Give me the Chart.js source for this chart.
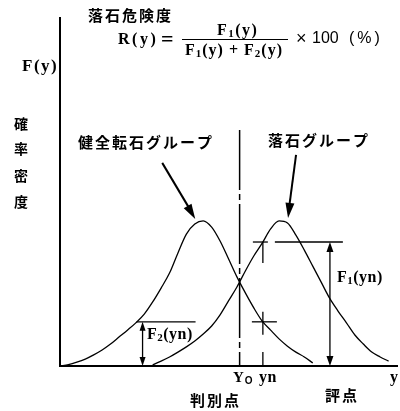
<!DOCTYPE html>
<html>
<head>
<meta charset="utf-8">
<script src="https://cdn.jsdelivr.net/npm/chart.js@4.4.0/dist/chart.umd.min.js"></script>
<style>
  body { margin: 0; background: #fff; }
</style>
</head>
<body>
<canvas id="chart" width="400" height="411"></canvas>
<script>
// score axis (y) sampled every 2.5
var scoreGrid = [0, 2.5, 5, 7.5, 10, 12.5, 15, 17.5, 20, 22.5, 25, 27.5, 30, 32.5, 35, 37.5, 40,
  42.5, 45, 47.5, 50, 52.5, 55, 57.5, 60, 62.5, 65, 67.5, 70, 72.5, 75, 77.5, 80, 82.5, 85,
  87.5, 90, 92.5, 95, 97.5, 100];

// F2(y) - 健全転石グループ
var healthyDensity = [0, 0.4, 1.1, 2.0, 3.2, 4.6, 6.3, 8.3, 10.3, 12.4, 14.9, 18.4, 22.4, 26.7,
  32.5, 37.9, 40.8, 41.7, 39.9, 35.9, 30.8, 25.6, 21.0, 16.7, 12.9, 10.3, 7.8, 5.7, 4.0, 2.6, 0.9,
  null, null, null, null, null, null, null, null, null, null];

// F1(y) - 落石グループ
var fallDensity = [null, null, null, null, null, null, null, null, null, null, null, 0.3, 1.4,
  2.6, 4.0, 5.5, 7.2, 9.2, 11.5, 14.7, 18.7, 22.7, 27.3, 31.6, 35.3, 39.4, 41.7, 41.1, 37.6, 33.3,
  28.7, 24.1, 19.5, 15.8, 12.4, 8.9, 6.3, 4.0, 2.6, 1.4, null];

var y0Score = 53.3;      // 判別点
var ynScore = 60.2;      // 評点
var dividerTop = 67.8;   // top of the dash-dot line
var f1ArrowScore = 80.1;
var f2ArrowScore = 24.5;

function toPoints(values) {
  return scoreGrid.map(function (s, i) { return { x: s, y: values[i] }; });
}

function valueAt(values, score) {
  for (var i = 0; i < scoreGrid.length - 1; i++) {
    if (score >= scoreGrid[i] && score <= scoreGrid[i + 1]) {
      var t = (score - scoreGrid[i]) / (scoreGrid[i + 1] - scoreGrid[i]);
      return values[i] + (values[i + 1] - values[i]) * t;
    }
  }
  return 0;
}

function peakOf(values) {
  var best = 0;
  values.forEach(function (v, i) { if (v !== null && v > values[best]) best = i; });
  return { x: scoreGrid[best], y: values[best] };
}

var CJK = 'bold 15px "Noto Sans CJK JP"';
var SERIF = 'bold 16px "Liberation Serif"';
var SUB = 'bold 11px "Liberation Serif"';

function spaced(ctx, text, x, y, font, gap) {
  ctx.font = font;
  for (var i = 0; i < text.length; i++) {
    ctx.fillText(text[i], x, y);
    x += ctx.measureText(text[i]).width + gap;
  }
  return x;
}

// parts: [text, font, dy]
function runs(ctx, parts, x, y, gap) {
  parts.forEach(function (p) {
    x = spaced(ctx, p[0], x, y + (p[2] || 0), p[1], gap);
  });
  return x;
}

function line(ctx, x1, y1, x2, y2) {
  ctx.beginPath();
  ctx.moveTo(x1, y1);
  ctx.lineTo(x2, y2);
  ctx.stroke();
}

function head(ctx, x1, y1, x2, y2, len, half) {
  var a = Math.atan2(y2 - y1, x2 - x1);
  var bx = x2 - len * Math.cos(a), by = y2 - len * Math.sin(a);
  ctx.beginPath();
  ctx.moveTo(x2, y2);
  ctx.lineTo(bx + half * Math.sin(a), by - half * Math.cos(a));
  ctx.lineTo(bx - half * Math.sin(a), by + half * Math.cos(a));
  ctx.closePath();
  ctx.fill();
}

var notes = {
  id: 'notes',
  afterDraw: function (chart) {
    var ctx = chart.ctx, a = chart.chartArea;
    var px = function (v) { return chart.scales.x.getPixelForValue(v); };
    var py = function (v) { return chart.scales.y.getPixelForValue(v); };
    var f1 = valueAt(fallDensity, ynScore);
    var f2 = valueAt(healthyDensity, ynScore);
    var xn = px(ynScore), y1 = py(f1), y2 = py(f2);

    ctx.save();
    ctx.strokeStyle = '#000';
    ctx.fillStyle = '#000';

    // dash-dot line at Y0
    ctx.lineWidth = 1.5;
    ctx.setLineDash([60, 4, 6, 4]);
    line(ctx, px(y0Score), py(dividerTop), px(y0Score), a.bottom);
    ctx.setLineDash([]);

    // yn marks
    ctx.lineWidth = 1.3;
    line(ctx, xn, y1, xn, y1 + 21);
    line(ctx, xn, y2 - 10, xn, y2 + 13);
    line(ctx, xn, a.bottom - 14, xn, a.bottom);
    line(ctx, xn - 10, y1, xn + 5, y1);
    line(ctx, xn + 12, y1, xn + 80, y1);
    line(ctx, xn - 11, y2, xn + 14, y2);

    // F1(yn) double arrow
    var fx = px(f1ArrowScore);
    line(ctx, fx, y1 + 4, fx, a.bottom - 4);
    head(ctx, fx, a.bottom, fx, y1, 10, 3.5);
    head(ctx, fx, y1, fx, a.bottom, 10, 3.5);

    // F2(yn) line and double arrow
    var gx = px(f2ArrowScore);
    line(ctx, gx - 6, y2, gx + 53, y2);
    line(ctx, gx, y2 + 4, gx, a.bottom - 4);
    head(ctx, gx, a.bottom, gx, y2, 9, 3);
    head(ctx, gx, y2, gx, a.bottom, 9, 3);

    // group arrows
    ctx.lineWidth = 2;
    var p2 = peakOf(healthyDensity), p1 = peakOf(fallDensity);
    var t1x = px(p2.x) - 8, t1y = py(p2.y) - 2;
    line(ctx, t1x - 33, t1y - 56, t1x - 5, t1y - 9);
    head(ctx, t1x - 33, t1y - 56, t1x, t1y, 15, 4.5);
    var t2x = px(p1.x) + 9, t2y = py(p1.y) - 3;
    line(ctx, t2x + 8, t2y - 63, t2x + 1, t2y - 10);
    head(ctx, t2x + 8, t2y - 63, t2x, t2y, 15, 4.5);

    // texts
    ctx.textBaseline = 'middle';
    ctx.textAlign = 'left';
    spaced(ctx, '落石危険度', 88, 15.5, CJK, 2);
    spaced(ctx, 'R(y)', 118, 40, SERIF, 2.5);
    spaced(ctx, '=', 161, 40, 'bold 22px "Liberation Serif"', 0);
    runs(ctx, [['F', SERIF], ['1', SUB, 3], ['(y)', SERIF]], 217, 31, 1.5);
    ctx.lineWidth = 1;
    line(ctx, 182, 39.5, 288, 39.5);
    runs(ctx, [['F', SERIF], ['1', SUB, 3], ['(y) + F', SERIF], ['2', SUB, 3], ['(y)', SERIF]], 185, 51, 1);
    ctx.font = '18px "Liberation Sans"';
    ctx.fillText('×', 296, 39);
    ctx.font = '16px "Liberation Sans"';
    ctx.fillText('100', 312, 39);
    spaced(ctx, '(%)', 349, 39, '16px "Liberation Sans"', 3);

    spaced(ctx, 'F(y)', 22, 67, 'bold 17px "Liberation Serif"', 1.5);
    ctx.font = 'bold 14px "Noto Sans CJK JP"';
    ['確', '率', '密', '度'].forEach(function (c, i) {
      ctx.fillText(c, 14, [124, 149, 176, 202][i]);
    });
    spaced(ctx, '健全転石グループ', 78, 142.5, CJK, 2);
    spaced(ctx, '落石グループ', 268, 140.5, CJK, 2);

    runs(ctx, [['F', SERIF], ['1', SUB, 3], ['(yn)', SERIF]], 337, 278, 0.5);
    runs(ctx, [['F', SERIF], ['2', SUB, 3], ['(yn)', SERIF]], 147, 335, 0.5);

    runs(ctx, [['Y', 'bold 15px "Liberation Serif"'], ['O', 'bold 10px "Liberation Sans"', 3]], 233, 378, 1);
    spaced(ctx, 'yn', 259, 378, 'bold 16px "Liberation Serif"', 0.5);
    spaced(ctx, 'y', 390, 378, 'bold 16px "Liberation Serif"', 0);
    spaced(ctx, '判別点', 190, 400.5, CJK, 2);
    spaced(ctx, '評点', 325, 395, CJK, 2);
    ctx.restore();
  }
};

new Chart(document.getElementById('chart'), {
  type: 'line',
  data: {
    datasets: [
      { label: '健全転石グループ', data: toPoints(healthyDensity) },
      { label: '落石グループ', data: toPoints(fallDensity) }
    ]
  },
  options: {
    responsive: false,
    animation: false,
    devicePixelRatio: 1,
    layout: { padding: { left: 60, top: 18, right: 3, bottom: 45 } },
    plugins: { legend: { display: false }, tooltip: { enabled: false } },
    elements: {
      point: { radius: 0 },
      line: { borderColor: '#000', borderWidth: 1.3, cubicInterpolationMode: 'monotone', fill: false }
    },
    scales: {
      x: {
        type: 'linear', min: 0, max: 100,
        grid: { display: false, drawTicks: false },
        ticks: { display: false },
        border: { color: '#000', width: 2 }
      },
      y: {
        min: 0, max: 100,
        grid: { display: false, drawTicks: false },
        ticks: { display: false },
        border: { color: '#000', width: 2 }
      }
    }
  },
  plugins: [notes]
});
</script>
</body>
</html>
